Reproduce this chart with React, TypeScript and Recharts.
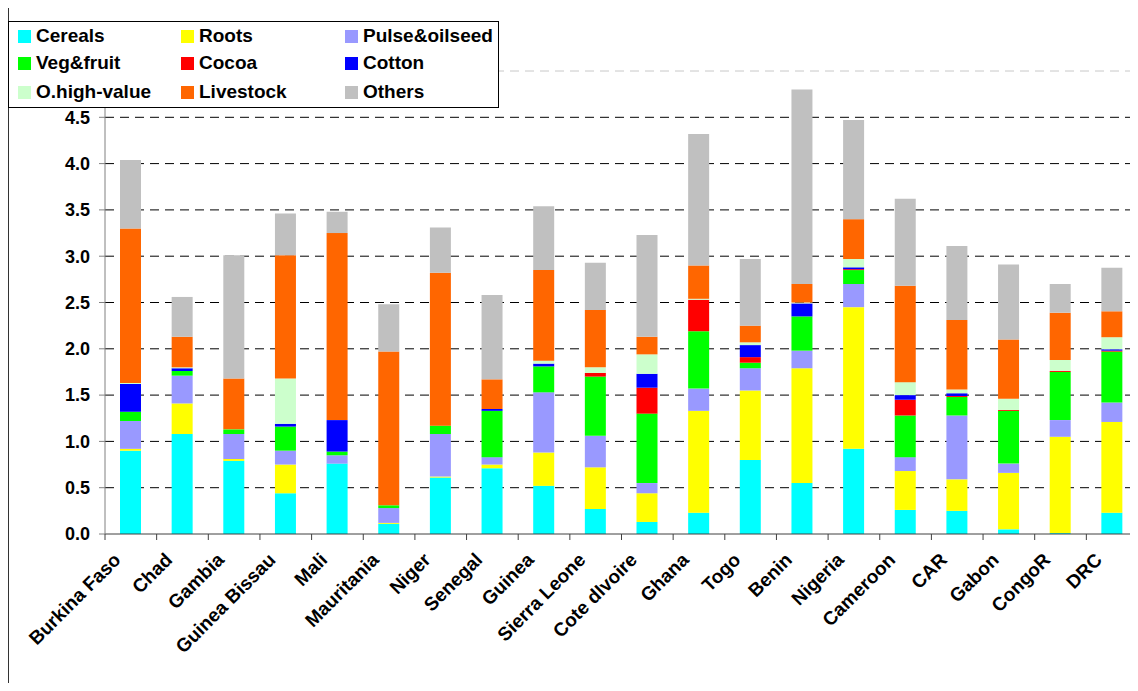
import { Bar, BarChart, CartesianGrid, ReferenceLine, XAxis, YAxis } from "recharts";

const countries = [
  "Burkina Faso", "Chad", "Gambia", "Guinea Bissau", "Mali", "Mauritania", "Niger",
  "Senegal", "Guinea", "Sierra Leone", "Cote dIvoire", "Ghana", "Togo", "Benin",
  "Nigeria", "Cameroon", "CAR", "Gabon", "CongoR", "DRC",
];

const cereals = [0.9, 1.08, 0.79, 0.44, 0.76, 0.11, 0.61, 0.71, 0.52, 0.27, 0.13, 0.23, 0.8, 0.55, 0.92, 0.26, 0.25, 0.05, 0.01, 0.23];
const roots = [0.02, 0.33, 0.02, 0.31, 0, 0.01, 0.01, 0.04, 0.36, 0.45, 0.31, 1.1, 0.75, 1.24, 1.53, 0.42, 0.34, 0.61, 1.04, 0.98];
const pulse = [0.3, 0.3, 0.27, 0.15, 0.09, 0.16, 0.46, 0.08, 0.65, 0.34, 0.11, 0.24, 0.24, 0.19, 0.25, 0.15, 0.69, 0.1, 0.18, 0.21];
const vegFruit = [0.1, 0.05, 0.05, 0.26, 0.04, 0.03, 0.09, 0.5, 0.28, 0.64, 0.75, 0.62, 0.06, 0.37, 0.15, 0.45, 0.2, 0.57, 0.52, 0.55];
const cocoa = [0, 0, 0, 0, 0, 0, 0, 0, 0, 0.04, 0.28, 0.34, 0.06, 0, 0.01, 0.17, 0.01, 0.01, 0.01, 0.01];
const cotton = [0.3, 0.03, 0, 0.03, 0.34, 0, 0, 0.02, 0.03, 0, 0.15, 0, 0.13, 0.14, 0.02, 0.05, 0.03, 0, 0, 0.015];
const highValue = [0.01, 0.01, 0, 0.49, 0, 0, 0, 0, 0.03, 0.06, 0.21, 0.01, 0.03, 0.01, 0.09, 0.14, 0.04, 0.12, 0.12, 0.13];
const livestock = [1.67, 0.33, 0.55, 1.33, 2.02, 1.66, 1.65, 0.32, 0.98, 0.62, 0.19, 0.36, 0.18, 0.2, 0.43, 1.04, 0.75, 0.64, 0.51, 0.28];
const others = [0.74, 0.43, 1.33, 0.45, 0.23, 0.51, 0.49, 0.91, 0.69, 0.51, 1.1, 1.42, 0.72, 2.1, 1.07, 0.94, 0.8, 0.81, 0.31, 0.47];

const yTicks = [0, 0.5, 1, 1.5, 2, 2.5, 3, 3.5, 4, 4.5];

// stacked bottom to top
const series = [
  { key: "cereals", name: "Cereals", color: "#00ffff", values: cereals },
  { key: "roots", name: "Roots", color: "#ffff00", values: roots },
  { key: "pulse", name: "Pulse&oilseed", color: "#9999ff", values: pulse },
  { key: "veg", name: "Veg&fruit", color: "#00ff00", values: vegFruit },
  { key: "cocoa", name: "Cocoa", color: "#ff0000", values: cocoa },
  { key: "cotton", name: "Cotton", color: "#0000ff", values: cotton },
  { key: "ohv", name: "O.high-value", color: "#ccffcc", values: highValue },
  { key: "livestock", name: "Livestock", color: "#ff6600", values: livestock },
  { key: "others", name: "Others", color: "#c0c0c0", values: others },
];

const data = countries.map((c, i) => {
  const row: Record<string, string | number> = { country: c };
  series.forEach((s) => (row[s.key] = s.values[i]));
  return row;
});

const W = 1138;
const H = 691;
const LEFT = 105;
const FONT = "'Liberation Sans', Arial, sans-serif";
const band = (W - LEFT) / countries.length;

function CountryTick(props: any) {
  const { x, y, payload } = props;
  return (
    <g>
      <line x1={x - band / 2} y1={y} x2={x - band / 2} y2={y + 6} stroke="#404040" />
      <text
        transform={`translate(${x - 9},${y + 27}) rotate(-45)`}
        textAnchor="end"
        fontSize={19}
        fontWeight={700}
        fontFamily={FONT}
        fill="#000"
      >
        {payload.value}
      </text>
    </g>
  );
}

function ChartLegend() {
  const cols = [9, 172, 336];
  const rows = [4, 31, 60];
  return (
    <div
      style={{
        position: "absolute",
        left: 8,
        top: 21,
        width: 489,
        height: 85,
        border: "1px solid #000",
        background: "#fff",
        fontFamily: FONT,
        fontWeight: 700,
        fontSize: 19,
      }}
    >
      {series.map((s, i) => (
        <div
          key={s.key}
          style={{
            position: "absolute",
            left: cols[i % 3],
            top: rows[Math.floor(i / 3)],
            display: "flex",
            alignItems: "center",
            height: 20,
            whiteSpace: "nowrap",
          }}
        >
          <span style={{ width: 13, height: 13, background: s.color, display: "inline-block", marginRight: 5 }} />
          <span>{s.name}</span>
        </div>
      ))}
    </div>
  );
}

export default function App() {
  return (
    <div style={{ position: "relative", width: W, height: H, margin: -8, overflow: "hidden", background: "#fff" }}>
      <div
        style={{
          position: "absolute",
          left: 7,
          top: 5,
          width: 1300,
          height: 900,
          border: "2px solid #333",
          boxSizing: "border-box",
        }}
      />
      <div style={{ position: "absolute", left: 0, top: 0 }}>
        <BarChart
          width={W}
          height={H}
          data={data}
          margin={{ top: 71, right: 0, bottom: 57, left: 0 }}
          barSize={21}
          style={{ fontFamily: FONT }}
        >
          <CartesianGrid vertical={false} stroke="#000" strokeDasharray="9 6" horizontalValues={yTicks.slice(1)} />
          <ReferenceLine y={5} stroke="#c8c8c8" strokeDasharray="9 6" />
          <XAxis
            dataKey="country"
            interval={0}
            height={100}
            tickSize={0}
            tickMargin={0}
            tickLine={false}
            axisLine={{ stroke: "#404040" }}
            tick={<CountryTick />}
          />
          <YAxis
            width={LEFT}
            domain={[0, 5]}
            ticks={yTicks}
            tickFormatter={(v: number) => v.toFixed(1)}
            tickSize={6}
            tickMargin={9}
            axisLine={{ stroke: "#808080" }}
            tickLine={{ stroke: "#808080" }}
            tick={{ fontSize: 18, fontWeight: 700, fill: "#000", fontFamily: FONT }}
          />
          {series.map((s) => (
            <Bar key={s.key} dataKey={s.key} name={s.name} stackId="a" fill={s.color} isAnimationActive={false} />
          ))}
        </BarChart>
      </div>
      <ChartLegend />
    </div>
  );
}
